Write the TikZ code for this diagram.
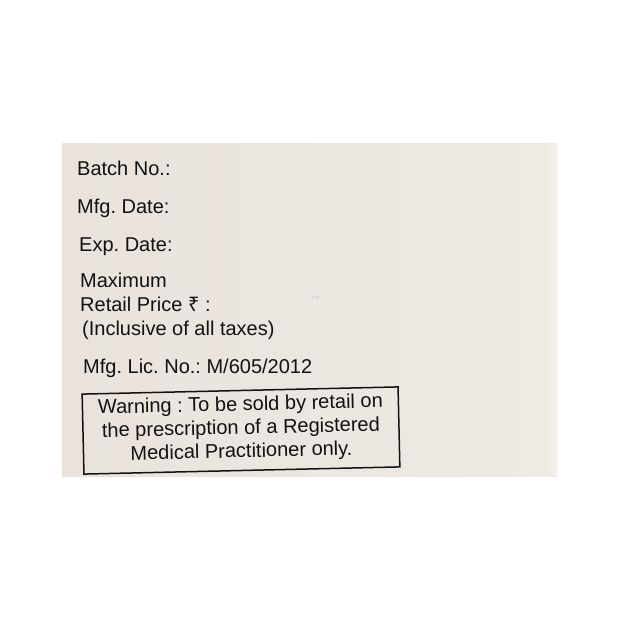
\documentclass[tikz,border=0pt]{standalone}
\usepackage{fontspec}
\setmainfont{Liberation Sans}
\newfontfamily\rupeefont{Noto Sans}
\definecolor{cardL}{RGB}{233,227,220}
\definecolor{cardR}{RGB}{238,234,228}
\definecolor{ink}{RGB}{18,18,18}
\frenchspacing
\begin{document}
\begin{tikzpicture}[x=1pt,y=-1pt,
  lbl/.style={anchor=base west,inner sep=0pt,text=ink,font=\frenchspacing\fontsize{20}{24}\selectfont},
  wline/.style={anchor=base,inner sep=0pt,text=ink,text height=12pt,text depth=2pt,font=\frenchspacing\fontsize{20}{24}\selectfont,transform shape},
  warnbox/.style={draw=ink,line width=1.5pt}]
\useasboundingbox (0,0) rectangle (620,620);
\fill[white] (0,0) rectangle (620,620);
% card
\shade[left color=cardL,right color=cardR] (62,144) rectangle (557,476);
\shade[left color=cardR,right color=cardR!70!white] (545,144) rectangle (557,476);
% texts
\node[lbl] (batch) at (77,176) {Batch No.:};
\node[lbl] (mfg) at (77,213) {Mfg. Date:};
\node[lbl] (exp) at (79,251) {Exp. Date:};
\node[lbl] (max) at (80,287) {Maximum};
\node[lbl] (retail) at (80,311) {Retail Price {\rupeefont ₹} :};
\node[lbl] (incl) at (82,335) {(Inclusive of all taxes)};
\node[lbl] (lic) at (83,373) {Mfg. Lic. No.: M/605/2012};
\node[anchor=base,inner sep=0pt,text=black!25,font=\fontsize{4}{4}\selectfont] (wm) at (315,298) {1mg};
% warning box
\begin{scope}[shift={(241,430.5)},rotate=1.3]
  \draw[warnbox] (-158,-40) rectangle (158,40);
  \node[wline] (w1) at (0,-19.8) {Warning : To be sold by retail on};
  \node[wline] (w2) at (0,3.6) {the prescription of a Registered};
  \node[wline] (w3) at (0,27) {Medical Practitioner only.};
\end{scope}
\end{tikzpicture}
\end{document}
